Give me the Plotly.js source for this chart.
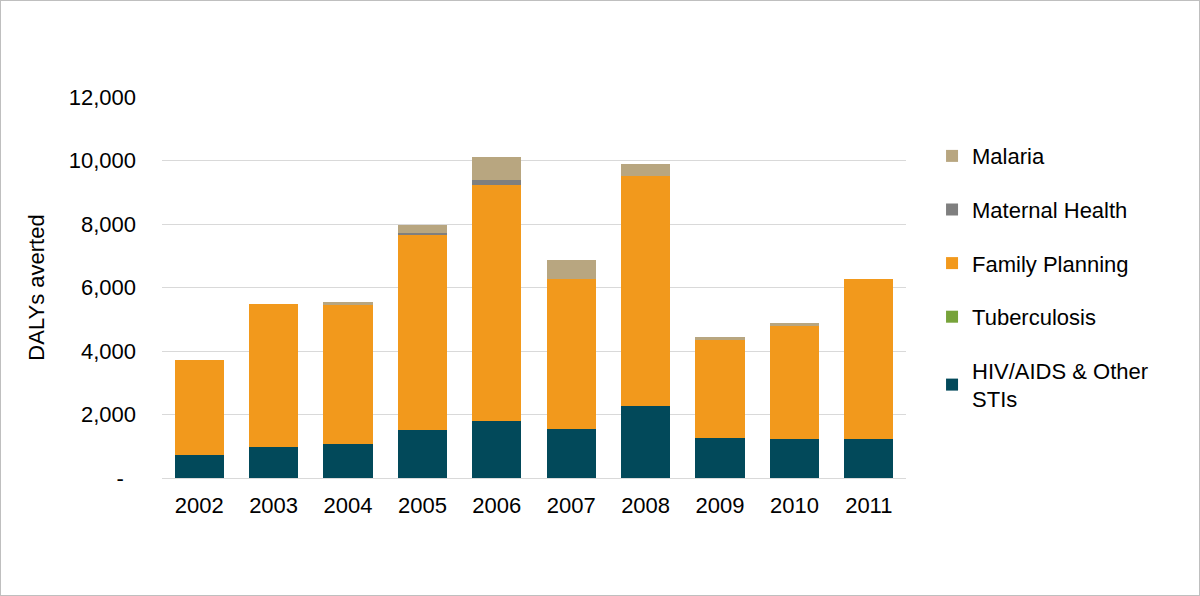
<!DOCTYPE html>
<html>
<head>
<meta charset="utf-8">
<script src="https://cdn.plot.ly/plotly-3.0.1.min.js"></script>
<style>
  html, body { margin: 0; padding: 0; background: #ffffff; }
  #frame { width: 1198px; height: 594px; border: 1px solid #bfbfbf; }
  #chart { width: 1198px; height: 594px; }
</style>
</head>
<body>
<div id="frame"><div id="chart"></div></div>
<script>
const years = ['2002','2003','2004','2005','2006','2007','2008','2009','2010','2011'];
const hivAids = [737, 990, 1074, 1516, 1811, 1547, 2274, 1253, 1232, 1232];
const tuberculosis = [0, 0, 0, 0, 0, 0, 0, 0, 0, 0];
const familyPlanning = [2968, 4494, 4379, 6147, 7410, 4706, 7252, 3094, 3557, 5021];
const maternalHealth = [0, 0, 0, 63, 168, 0, 0, 0, 0, 0];
const malaria = [0, 0, 94, 232, 727, 610, 379, 85, 85, 0];
const yTickVals = [0, 2000, 4000, 6000, 8000, 10000, 12000];
const yTickText = ['-\u00a0\u00a0', '2,000', '4,000', '6,000', '8,000', '10,000', '12,000'];

const series = [
  {name: 'HIV/AIDS & Other<br>STIs', y: hivAids, color: '#02495a'},
  {name: 'Tuberculosis', y: tuberculosis, color: '#77a33a'},
  {name: 'Family Planning', y: familyPlanning, color: '#f2991c'},
  {name: 'Maternal Health', y: maternalHealth, color: '#7f7f7f'},
  {name: 'Malaria', y: malaria, color: '#b8a680'}
];

const traces = series.map((s, i) => ({
  type: 'bar',
  name: s.name,
  x: years,
  y: s.y,
  legendgroup: 'g' + i,
  legendrank: 1000 - i,
  marker: {color: s.color, line: {width: 0}},
  hoverinfo: 'x+y+name'
}));

const font = {family: '"Liberation Sans", Arial, sans-serif', size: 22, color: '#000000'};

const layout = {
  width: 1198,
  height: 594,
  margin: {l: 161, r: 293, t: 96, b: 117},
  paper_bgcolor: '#ffffff',
  plot_bgcolor: '#ffffff',
  font: font,
  barmode: 'stack',
  bargap: 0.34,
  showlegend: true,
  legend: {
    x: 1.035, xanchor: 'left',
    y: 0.90, yanchor: 'top',
    traceorder: 'grouped',
    tracegroupgap: 22,
    itemwidth: 30,
    font: font,
    bgcolor: 'rgba(0,0,0,0)'
  },
  xaxis: {
    type: 'category',
    showgrid: false,
    showline: false,
    zeroline: false,
    ticks: '',
    ticklabelstandoff: 12,
    tickfont: font
  },
  yaxis: {
    range: [0, 12000],
    tickvals: yTickVals,
    ticktext: yTickText,
    showgrid: true,
    gridcolor: '#d9d9d9',
    gridwidth: 1,
    zeroline: true,
    zerolinecolor: '#d9d9d9',
    zerolinewidth: 1,
    showline: false,
    ticks: '',
    ticklabelstandoff: 25,
    tickfont: font,
    title: {text: 'DALYs averted', font: font, standoff: 18}
  }
};

Plotly.newPlot('chart', traces, layout, {displayModeBar: false, staticPlot: true});
</script>
</body>
</html>
